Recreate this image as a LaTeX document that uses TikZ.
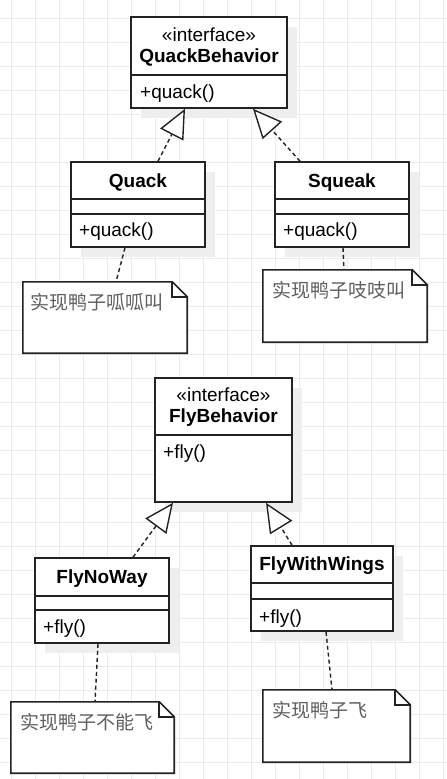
\documentclass[tikz,border=0pt]{standalone}
\usepackage{fontspec}
\setmainfont{Liberation Sans}
\newfontfamily\cjk{Noto Sans CJK SC}
\usepackage{tikz}
\usetikzlibrary{arrows.meta,shadows}
\usepackage{xcolor}
\definecolor{gridc}{RGB}{235,235,235}
\definecolor{shadowc}{RGB}{238,238,238}
\definecolor{linec}{RGB}{35,35,35}
\definecolor{notec}{RGB}{95,95,95}
\tikzset{
  cls/.style={rectangle,draw=linec,line width=1.6pt,fill=white,inner sep=0pt,
    drop shadow={shadow xshift=10pt,shadow yshift=-10pt,fill=shadowc,opacity=1}},
  sep/.style={draw=linec,line width=1.6pt},
  gridl/.style={draw=gridc,line width=0.9pt},
  ttl/.style={font=\fontsize{19}{23}\selectfont\bfseries,inner sep=0pt},
  ster/.style={font=\fontsize{19}{23}\selectfont,inner sep=0pt},
  meth/.style={font=\fontsize{19}{23}\selectfont,anchor=west,inner sep=0pt},
  notebox/.style={rectangle,draw=none,inner sep=0pt},
  noteline/.style={draw=linec,line width=1.6pt,line join=miter},
  notetxt/.style={font=\cjk\fontsize{19}{23}\selectfont,text=notec,anchor=west,inner sep=0pt},
  real/.style={-{Triangle[open,length=29pt,width=26pt,fill=white]},draw=linec,line width=1.4pt,dash pattern=on 4pt off 3pt},
  nline/.style={draw=linec,line width=1.4pt,dash pattern=on 4pt off 3pt},
}
\begin{document}
\begin{tikzpicture}[x=1pt,y=-1pt]
  \useasboundingbox[fill=white] (0,0) rectangle (447,779);
  % background grid
  \foreach \k in {0,...,18}{\draw[gridl] ({11.5+24*\k},0) -- ({11.5+24*\k},779);}
  \foreach \k in {0,...,31}{\draw[gridl] (0,{18.3+24*\k}) -- (447,{18.3+24*\k});}
  % notes
  \node[notebox,minimum width=164,minimum height=71](nQk) at (105,317.5){};
  \node[notebox,minimum width=164,minimum height=72](nSq) at (345,306){};
  \node[notebox,minimum width=163,minimum height=71](nFNW) at (92.5,737.5){};
  \node[notebox,minimum width=147,minimum height=72](nFWW) at (336.5,726){};
  \foreach \n in {nQk,nSq,nFNW,nFWW}{
    \draw[noteline,fill=white] (\n.north west) -- ([xshift=-15pt]\n.north east) -- ([yshift=-15pt]\n.north east)
      -- (\n.south east) -- (\n.south west) -- cycle;
    \draw[noteline] ([xshift=-15pt]\n.north east) -- ([xshift=-15pt,yshift=-15pt]\n.north east) -- ([yshift=-15pt]\n.north east);}
  \node[notetxt](tQk) at (30,302){实现鸭子呱呱叫};
  \node[notetxt](tSq) at (272,290){实现鸭子吱吱叫};
  \node[notetxt](tFNW) at (20,722){实现鸭子不能飞};
  \node[notetxt](tFWW) at (272,710){实现鸭子飞};
  % interfaces
  \node[cls,minimum width=156,minimum height=91](QB) at (209,62.5){};
  \draw[sep] (QB.west |- 0,75) -- (QB.east |- 0,75);
  \node[ster](QBs) at (209,35){«interface»}; \node[ttl](QBt) at (209,57.5){QuackBehavior};
  \node[meth](QBm) at (140,94){+quack()};
  \node[cls,minimum width=137,minimum height=124](FB) at (223.5,440){};
  \draw[sep] (FB.west |- 0,435) -- (FB.east |- 0,435);
  \node[ster](FBs) at (223.5,395){«interface»}; \node[ttl](FBt) at (223.5,417.5){FlyBehavior};
  \node[meth](FBm) at (163,454){+fly()};
  % implementations
  \foreach \c/\x/\y/\w/\sa/\sb in {Qk/138/204.5/134/199/214, Sq/342/204.5/134/199/214, FNW/102/600.5/134/596/610, FWW/322/588.5/142/583/599}{
    \node[cls,minimum width=\w,minimum height=85](\c) at (\x,\y){};
    \draw[sep] (\c.west |- 0,\sa) -- (\c.east |- 0,\sa); \draw[sep] (\c.west |- 0,\sb) -- (\c.east |- 0,\sb);}
  \node[ttl](Qkt) at (138,182.5){Quack}; \node[meth](Qkm) at (79,232){+quack()};
  \node[ttl](Sqt) at (342,182.5){Squeak}; \node[meth](Sqm) at (283,232){+quack()};
  \node[ttl](FNWt) at (102,578.5){FlyNoWay}; \node[meth](FNWm) at (43,629){+fly()};
  \node[ttl](FWWt) at (322,565.5){FlyWithWings}; \node[meth](FWWm) at (259,619){+fly()};
  % realizations
  \draw[real] ([xshift=20pt]Qk.north) -- ([xshift=-24pt]QB.south);
  \draw[real] ([xshift=-42pt]Sq.north) -- ([xshift=44pt]QB.south);
  \draw[real] ([xshift=31pt]FNW.north) -- ([xshift=-50.5pt]FB.south);
  \draw[real] ([xshift=-30pt]FWW.north) -- ([xshift=42.5pt]FB.south);
  % note links
  \draw[nline] ([xshift=-13pt]Qk.south) -- ([xshift=11pt]nQk.north);
  \draw[nline] ([xshift=1pt]Sq.south) -- ([xshift=-1pt]nSq.north);
  \draw[nline] ([xshift=-4pt]FNW.south) -- ([xshift=2.5pt]nFNW.north);
  \draw[nline] ([xshift=4pt]FWW.south) -- ([xshift=-4.5pt]nFWW.north);
\end{tikzpicture}
\end{document}
